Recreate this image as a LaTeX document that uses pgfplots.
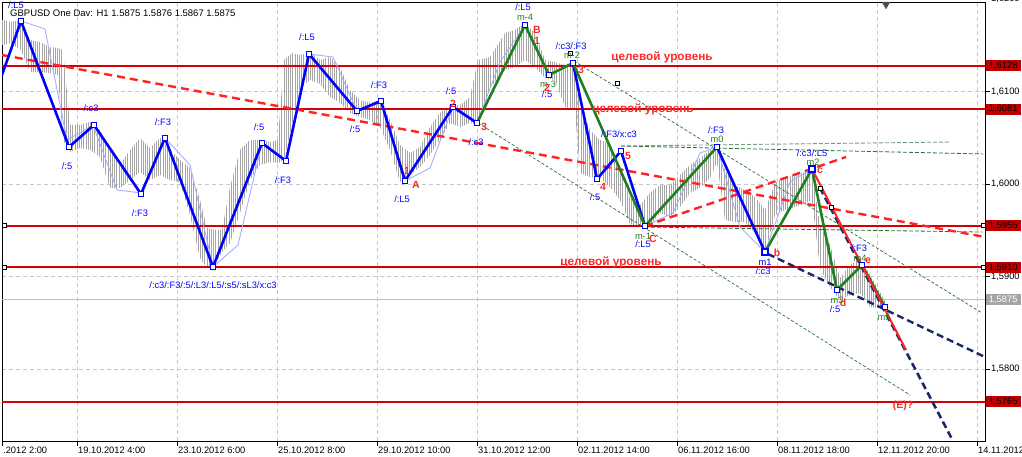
\documentclass[border=0pt]{standalone}
\usepackage{fontspec}
\setmainfont{Liberation Sans}
\usepackage{pgfplots}
\pgfplotsset{compat=1.18}
\usetikzlibrary{patterns.meta}
\definecolor{zzblue}{RGB}{0,0,255}
\definecolor{zzgreen}{RGB}{30,128,30}
\definecolor{dred}{RGB}{255,35,35}
\definecolor{lvlcol}{RGB}{215,0,0}
\definecolor{navyd}{RGB}{25,40,105}
\definecolor{dgreen}{RGB}{40,110,60}
\definecolor{ggreen}{RGB}{120,155,130}
\definecolor{lblue}{RGB}{165,175,250}
\definecolor{barg}{RGB}{165,165,165}
\definecolor{gridg}{RGB}{200,200,200}
\definecolor{boxred}{RGB}{192,0,0}
\definecolor{boxgray}{RGB}{165,165,165}
\definecolor{lblred}{RGB}{255,40,40}
\begin{document}
\begin{tikzpicture}[
  blbl/.style={text=zzblue, font=\fontsize{9.3}{10}\selectfont, inner sep=0pt},
  glbl/.style={text=zzgreen, font=\fontsize{9.3}{10}\selectfont, inner sep=0pt},
  rlbl/.style={text=lblred, font=\bfseries\fontsize{10.5}{11}\selectfont, inner sep=0pt},
  tlbl/.style={text=lblred, font=\bfseries\fontsize{11.8}{12}\selectfont, inner sep=0pt},
  pbox/.style={anchor=west, minimum width=35pt, minimum height=11pt, inner sep=0pt, font=\fontsize{9.3}{10}\selectfont},
  lvl/.style={color=lvlcol, solid, line width=1.9pt}
]
\begin{axis}[
  width=983pt, height=439pt, scale only axis,
  at={(0,0)}, anchor=south west,
  xmin=2, xmax=985, ymin=1.572238, ymax=1.619698,
  clip mode=individual,
  axis line style={black, line width=0.9pt},
  xtick={2,77,177,277,377,477,577,677,777,877,977},
  xticklabels={.2012 2:00,19.10.2012 4:00,23.10.2012 6:00,25.10.2012 8:00,29.10.2012 10:00,31.10.2012 12:00,02.11.2012 14:00,06.11.2012 16:00,08.11.2012 18:00,12.11.2012 20:00,14.11.2012},
  ytick={1.58,1.59,1.60,1.61},
  yticklabels={{1,5800},{1,5900},{1,6000},{1,6100}},
  xtick pos=left, ytick pos=right,
  tick align=outside, major tick length=5pt,
  tick style={black, line width=0.7pt},
  grid=major, major grid style={gridg, dash pattern=on 4pt off 3pt, line width=0.6pt},
  ticklabel style={font=\fontsize{9.3}{10}\selectfont, inner sep=0pt},
  xticklabel style={anchor=north west, yshift=-1pt, xshift=1pt},
  yticklabel style={anchor=west, xshift=1pt},
]
% current price line
\addplot[color=boxgray!70, line width=0.8pt] coordinates {(2,1.5875)(985,1.5875)};
% price bars (high/low envelope, hatched)
\addplot[draw=none, pattern={Lines[angle=90,distance=2.2pt,line width=0.6pt]}, pattern color=barg] coordinates {
(2,1.61775)(10,1.61754)(21,1.61775)(30,1.61559)(40,1.61537)(50,1.61483)(58,1.61473)(63,1.61451)(70,1.60640)(80,1.60640)(90,1.60673)(100,1.60586)(110,1.60370)(120,1.60208)(130,1.60370)(140,1.60500)(150,1.60391)(160,1.60500)(170,1.60370)(180,1.60262)(190,1.60175)(200,1.59829)(207,1.59527)(215,1.59505)(222,1.59505)(230,1.59970)(240,1.60370)(250,1.60478)(260,1.60478)(270,1.60456)(278,1.60478)(284,1.61343)(292,1.61418)(300,1.61397)(310,1.61429)(320,1.61343)(330,1.61375)(340,1.61267)(350,1.61018)(360,1.60910)(370,1.60878)(380,1.60910)(390,1.60694)(400,1.60424)(410,1.60337)(420,1.60402)(430,1.60618)(440,1.60770)(450,1.60856)(460,1.60856)(470,1.60943)(478,1.61343)(490,1.61375)(505,1.61635)(515,1.61667)(525,1.61743)(535,1.61635)(545,1.61343)(555,1.61321)(565,1.61289)(575,1.61343)(580,1.60856)(590,1.60586)(600,1.60478)(610,1.60445)(620,1.60154)(630,1.59851)(640,1.59775)(650,1.59905)(660,1.59991)(670,1.59991)(680,1.60100)(690,1.60208)(700,1.60283)(710,1.60370)(717,1.60424)(725,1.60154)(735,1.59991)(745,1.59937)(755,1.59862)(765,1.59721)(775,1.60013)(785,1.60078)(795,1.60100)(805,1.60132)(812,1.60175)(820,1.59559)(830,1.59343)(840,1.58986)(850,1.59127)(860,1.59202)(870,1.59018)(880,1.58835)(885,1.58748)
(885,1.58640)(880,1.58662)(870,1.58672)(860,1.58824)(850,1.58802)(840,1.58748)(830,1.58889)(820,1.59094)(812,1.59829)(805,1.59797)(795,1.59754)(785,1.59721)(775,1.59667)(765,1.59256)(755,1.59472)(745,1.59591)(735,1.59591)(725,1.59613)(717,1.60240)(710,1.60067)(700,1.59959)(690,1.59905)(680,1.59754)(670,1.59645)(660,1.59689)(650,1.59559)(640,1.59537)(630,1.59570)(620,1.59829)(610,1.59970)(600,1.60067)(590,1.60078)(580,1.60121)(575,1.60802)(565,1.60835)(555,1.61127)(545,1.61148)(535,1.61267)(525,1.61343)(515,1.61267)(505,1.61235)(490,1.61040)(478,1.60640)(470,1.60662)(460,1.60618)(450,1.60662)(440,1.60478)(430,1.60316)(420,1.60186)(410,1.60100)(400,1.60024)(390,1.60370)(380,1.60618)(370,1.60694)(360,1.60727)(350,1.60770)(340,1.60878)(330,1.60943)(320,1.61083)(310,1.61127)(300,1.61040)(292,1.60640)(284,1.60262)(278,1.60229)(270,1.60240)(260,1.60208)(250,1.60045)(240,1.59689)(230,1.59364)(222,1.59267)(215,1.59127)(207,1.59094)(200,1.59202)(190,1.59667)(180,1.60024)(170,1.60045)(160,1.60100)(150,1.60045)(140,1.60132)(130,1.60045)(120,1.59959)(110,1.59959)(100,1.60294)(90,1.60370)(80,1.60391)(70,1.60348)(63,1.60478)(58,1.61181)(50,1.61202)(40,1.61213)(30,1.61213)(21,1.61451)(10,1.61527)(2,1.61505)
} -- cycle;
% horizontal target levels
\addplot[lvl] coordinates {(2,1.6128)(985,1.6128)};
\addplot[lvl] coordinates {(2,1.6081)(985,1.6081)};
\addplot[lvl] coordinates {(2,1.5955)(985,1.5955)};
\addplot[lvl] coordinates {(2,1.5910)(985,1.5910)};
\addplot[lvl] coordinates {(2,1.5765)(985,1.5765)};
% thin dashed channel lines
\addplot[color=dgreen, line width=0.7pt, dash pattern=on 3pt off 2pt] coordinates {(478,1.60662)(910,1.57721)};
\addplot[color=dgreen, line width=0.7pt, dash pattern=on 3pt off 2pt] coordinates {(574,1.61332)(982,1.58608)};
\addplot[color=ggreen, line width=0.9pt, dash pattern=on 4pt off 2pt] coordinates {(621,1.60413)(950,1.60456)};
\addplot[color=dgreen, line width=0.8pt, dash pattern=on 4pt off 2pt] coordinates {(621,1.60413)(983,1.60327)};
\addplot[color=dgreen, line width=0.8pt, dash pattern=on 4pt off 2pt] coordinates {(645,1.59537)(983,1.59483)};
% light zigzag
\addplot[color=lblue, line width=0.9pt] coordinates {(21,1.61764)(45,1.61678)(67,1.60478)(93,1.60640)(117,1.59937)(142,1.59905)(165,1.60500)(190,1.60208)(213,1.59105)(238,1.59343)(262,1.60445)(286,1.60251)(309,1.61408)(333,1.61375)(357,1.60791)(381,1.60900)(405,1.60035)(430,1.60175)(453,1.60835)(477,1.60662)(500,1.61321)(525,1.61721)(549,1.61181)(573,1.61310)(597,1.60056)(621,1.60359)(645,1.59548)(673,1.59689)(700,1.60337)(717,1.60402)(740,1.59537)(765,1.59267)(790,1.60024)(812,1.60164)};
% red dashed trend lines
\addplot[color=dred, line width=2.4pt, dash pattern=on 8pt off 5pt] coordinates {(2,1.61397)(985,1.59429)};
\addplot[color=dred, line width=2.4pt, dash pattern=on 8pt off 5pt] coordinates {(645,1.59548)(846,1.60294)};
% navy dashed
\addplot[color=navyd, line width=2.4pt, dash pattern=on 7pt off 4pt] coordinates {(768,1.59245)(985,1.58132)};
\addplot[color=navyd, line width=2.6pt, dash pattern=on 7pt off 4pt] coordinates {(820,1.59959)(953,1.57224)};
% blue zigzag
\addplot[color=zzblue, line width=2.6pt] coordinates {(2,1.61181)(21,1.61764)(69,1.60402)(94,1.60640)(141,1.59894)(165,1.60500)(213,1.59105)(262,1.60445)(286,1.60251)(309,1.61408)(357,1.60791)(381,1.60900)(405,1.60035)(453,1.60835)(477,1.60662)};
\addplot[color=zzblue, line width=2.6pt] coordinates {(573,1.61310)(597,1.60056)(621,1.60359)(645,1.59548)};
\addplot[color=zzblue, line width=2.6pt] coordinates {(717,1.60402)(765,1.59267)};
% green zigzag
\addplot[color=zzgreen, line width=2.6pt] coordinates {(477,1.60662)(525,1.61721)(549,1.61181)(573,1.61310)(645,1.59548)(717,1.60402)};
\addplot[color=zzgreen, line width=2.6pt] coordinates {(765,1.59267)(812,1.60164)(837,1.58856)(862,1.59127)(885,1.58673)};
% red solid
\addplot[color=dred, line width=2pt] coordinates {(812,1.60164)(906,1.58208)};
% node squares
\addplot[only marks, mark=square*, mark size=2.3pt, mark options={fill=white, draw=zzblue, line width=0.8pt}] coordinates {(21,1.61764)(69,1.60402)(94,1.60640)(141,1.59894)(165,1.60500)(213,1.59105)(262,1.60445)(286,1.60251)(309,1.61408)(357,1.60791)(381,1.60900)(405,1.60035)(453,1.60835)(477,1.60662)(525,1.61721)(549,1.61181)(573,1.61310)(597,1.60056)(621,1.60359)(645,1.59548)(717,1.60402)(765,1.59267)(812,1.60164)(837,1.58856)(862,1.59127)(885,1.58673)};
\addplot[only marks, mark=square, mark size=3.6pt, mark options={draw=zzblue, line width=0.8pt}] coordinates {(765,1.59267)(812,1.60164)};
\addplot[only marks, mark=square*, mark size=2pt, mark options={fill=white, draw=black, line width=0.7pt}] coordinates {(4,1.5955)(4,1.5910)(983,1.5955)(983,1.5910)(617,1.61094)(570,1.61418)(820,1.59959)(831,1.59754)};
\addplot[only marks, mark=triangle*, mark size=4.5pt, mark options={rotate=180, fill=black!70, draw=black!70}] coordinates {(886,1.61945)};
% header
\node[anchor=west, inner sep=0pt, font=\fontsize{9.5}{10}\selectfont] at (axis cs:10,1.61851) {GBPUSD One Dav: H1 1.5875 1.5876 1.5867 1.5875};
% blue labels
\node[blbl] at (axis cs:16,1.61937) {/:L5};
\node[blbl] at (axis cs:67,1.60197) {/:5};
\node[blbl] at (axis cs:91,1.60824) {/:c3};
\node[blbl] at (axis cs:163,1.60673) {/:F3};
\node[blbl] at (axis cs:140,1.59689) {/:F3};
\node[blbl] at (axis cs:213,1.58910) {/:c3/:F3/:5/:L3/:L5/:s5/:sL3/x:c3};
\node[blbl] at (axis cs:259,1.60618) {/:5};
\node[blbl] at (axis cs:283,1.60045) {/:F3};
\node[blbl] at (axis cs:307,1.61591) {/:L5};
\node[blbl] at (axis cs:355,1.60597) {/:5};
\node[blbl] at (axis cs:379,1.61073) {/:F3};
\node[blbl] at (axis cs:402,1.59840) {/:L5};
\node[blbl] at (axis cs:451,1.61008) {/:5};
\node[blbl] at (axis cs:476,1.60456) {/:c3};
\node[blbl] at (axis cs:523,1.61916) {/:L5};
\node[blbl] at (axis cs:547,1.60975) {/:5};
\node[blbl] at (axis cs:571,1.61494) {/:c3/:F3};
\node[blbl] at (axis cs:595,1.59862) {/:5};
\node[blbl] at (axis cs:619,1.60543) {/:F3/x:c3};
\node[blbl] at (axis cs:643,1.59354) {/:L5};
\node[blbl] at (axis cs:716,1.60586) {/:F3};
\node[blbl] at (axis cs:812,1.60337) {/:c3/:L5};
\node[blbl] at (axis cs:765,1.59159) {m1};
\node[blbl] at (axis cs:763,1.59062) {/:c3};
\node[blbl] at (axis cs:859,1.59310) {/:F3};
\node[blbl] at (axis cs:835,1.58651) {/:5};
% green labels
\node[glbl] at (axis cs:525,1.61808) {m-4};
\node[glbl] at (axis cs:548,1.61083) {m-3};
\node[glbl] at (axis cs:572,1.61397) {m-2};
\node[glbl] at (axis cs:643,1.59440) {m-1};
\node[glbl] at (axis cs:717,1.60489) {m0};
\node[glbl] at (axis cs:813,1.60240) {m2};
\node[glbl] at (axis cs:837,1.58748) {m3};
\node[glbl] at (axis cs:860,1.59202) {m4};
\node[glbl] at (axis cs:884,1.58564) {m5};
% red labels
\node[rlbl] at (axis cs:407,1.60143) {1};
\node[rlbl] at (axis cs:416,1.59991) {A};
\node[rlbl] at (axis cs:453,1.60867) {2};
\node[rlbl] at (axis cs:484,1.60618) {3};
\node[rlbl] at (axis cs:537,1.61667) {B};
\node[rlbl] at (axis cs:537,1.61548) {1};
\node[rlbl] at (axis cs:547,1.61040) {2};
\node[rlbl] at (axis cs:581,1.61235) {3};
\node[rlbl] at (axis cs:603,1.59970) {4};
\node[rlbl] at (axis cs:628,1.60305) {5};
\node[rlbl] at (axis cs:653,1.59408) {C};
\node[rlbl] at (axis cs:777,1.59256) {b};
\node[rlbl] at (axis cs:820,1.60143) {c};
\node[rlbl] at (axis cs:843,1.58716) {d};
\node[rlbl] at (axis cs:868,1.59170) {e};
\node[rlbl] at (axis cs:903,1.57602) {(E)?};
\node[tlbl] at (axis cs:662,1.61375) {целевой уровень};
\node[tlbl] at (axis cs:643,1.60813) {целевой уровень};
\node[tlbl] at (axis cs:611,1.59159) {целевой уровень};
% right price boxes
\node[pbox, fill=boxred, text=black] at (axis cs:985.5,1.6128) {1,6128};
\node[pbox, fill=boxred, text=black] at (axis cs:985.5,1.6081) {1,6081};
\node[pbox, fill=boxred, text=black] at (axis cs:985.5,1.5955) {1,5955};
\node[pbox, fill=boxred, text=black] at (axis cs:985.5,1.5910) {1,5910};
\node[pbox, fill=boxred, text=black] at (axis cs:985.5,1.5765) {1,5765};
\node[pbox, fill=boxgray, text=white] at (axis cs:985.5,1.5875) {1,5875};
\node[anchor=west, inner sep=0pt, font=\fontsize{9.3}{10}\selectfont] at (axis cs:991,1.6200) {1,6200};
\end{axis}
\pgfresetboundingbox
\path[use as bounding box] (-2pt,-16pt) rectangle (1020pt,441pt);
\end{tikzpicture}
\end{document}
